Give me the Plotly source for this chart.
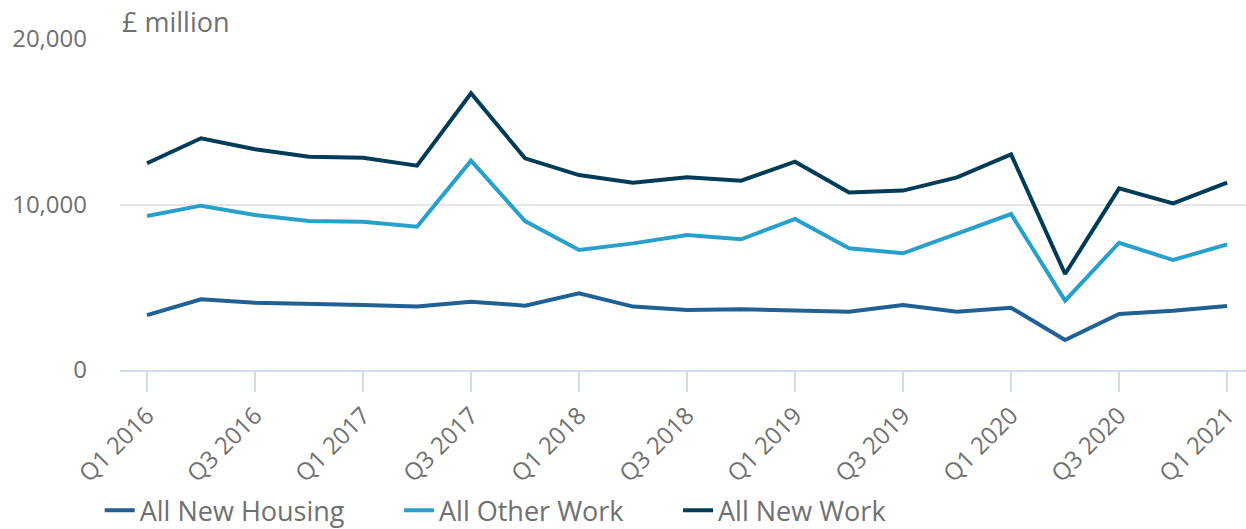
import plotly.graph_objects as go

quarters = [
    "Q1 2016", "Q2 2016", "Q3 2016", "Q4 2016",
    "Q1 2017", "Q2 2017", "Q3 2017", "Q4 2017",
    "Q1 2018", "Q2 2018", "Q3 2018", "Q4 2018",
    "Q1 2019", "Q2 2019", "Q3 2019", "Q4 2019",
    "Q1 2020", "Q2 2020", "Q3 2020", "Q4 2020",
    "Q1 2021",
]

all_new_housing = [3320, 4270, 4070, 3970, 3930, 3830, 4130, 3890, 4630, 3830,
                   3625, 3665, 3565, 3525, 3930, 3525, 3765, 1810, 3385, 3585, 3870]
all_other_work = [9305, 9930, 9365, 9000, 8960, 8660, 12650, 9000, 7250, 7650,
                  8160, 7895, 9125, 7350, 7050, 8260, 9425, 4190, 7690, 6645, 7590]
all_new_work = [12490, 14000, 13335, 12890, 12830, 12345, 16720, 12790, 11780, 11320,
                11640, 11440, 12590, 10730, 10840, 11640, 13030, 5800, 10975, 10070, 11320]

tick_labels = quarters[::2]

series = [
    ("All New Housing", all_new_housing, "#206095"),
    ("All Other Work", all_other_work, "#27A0CC"),
    ("All New Work", all_new_work, "#003C57"),
]

FONT = "Open Sans"
GREY = "#707070"

legend_names = ["legend", "legend2", "legend3"]
legend_x = [-0.018, 0.2478, 0.4956]

fig = go.Figure()
for (name, vals, color), lg in zip(series, legend_names):
    fig.add_trace(go.Scatter(
        x=list(range(len(quarters))), y=vals, name=name, mode="lines",
        line=dict(color=color, width=4), legend=lg,
    ))

legend_common = dict(
    orientation="h", xanchor="left", y=-0.425, yanchor="middle",
    font=dict(size=27, color=GREY), itemwidth=30,
    bgcolor="rgba(0,0,0,0)",
)

fig.update_layout(
    width=1246, height=529,
    paper_bgcolor="white", plot_bgcolor="white",
    margin=dict(l=120, r=0, t=39, b=159, autoexpand=False),
    font=dict(family=FONT, size=24, color=GREY),
    showlegend=True,
    legend=dict(x=legend_x[0], **legend_common),
    legend2=dict(x=legend_x[1], **legend_common),
    legend3=dict(x=legend_x[2], **legend_common),
    xaxis=dict(
        range=[-0.5, 20.35],
        tickmode="array",
        tickvals=list(range(0, len(quarters), 2)),
        ticktext=tick_labels,
        tickangle=-45,
        showgrid=False,
        showline=True, linecolor="#d3dcee", linewidth=2,
        ticks="outside", ticklen=20, tickwidth=2, tickcolor="#d3dcee",
        tickfont=dict(size=24, color=GREY),
        zeroline=False,
    ),
    yaxis=dict(
        range=[0, 20000],
        tickvals=[0, 10000, 20000],
        tickformat=",d",
        showgrid=True, gridcolor="#e6e6e6", gridwidth=2,
        zeroline=False,
        tickfont=dict(size=24, color=GREY),
        ticklabelstandoff=32,
    ),
    annotations=[
        dict(text="£ million", xref="paper", yref="paper", x=0, y=1.0,
             xanchor="left", yanchor="bottom", yshift=-3, showarrow=False,
             font=dict(size=27, color=GREY)),
    ],
)

fig.write_html("out.html", config={"displayModeBar": False},
               post_script="document.body.style.margin='0';")
